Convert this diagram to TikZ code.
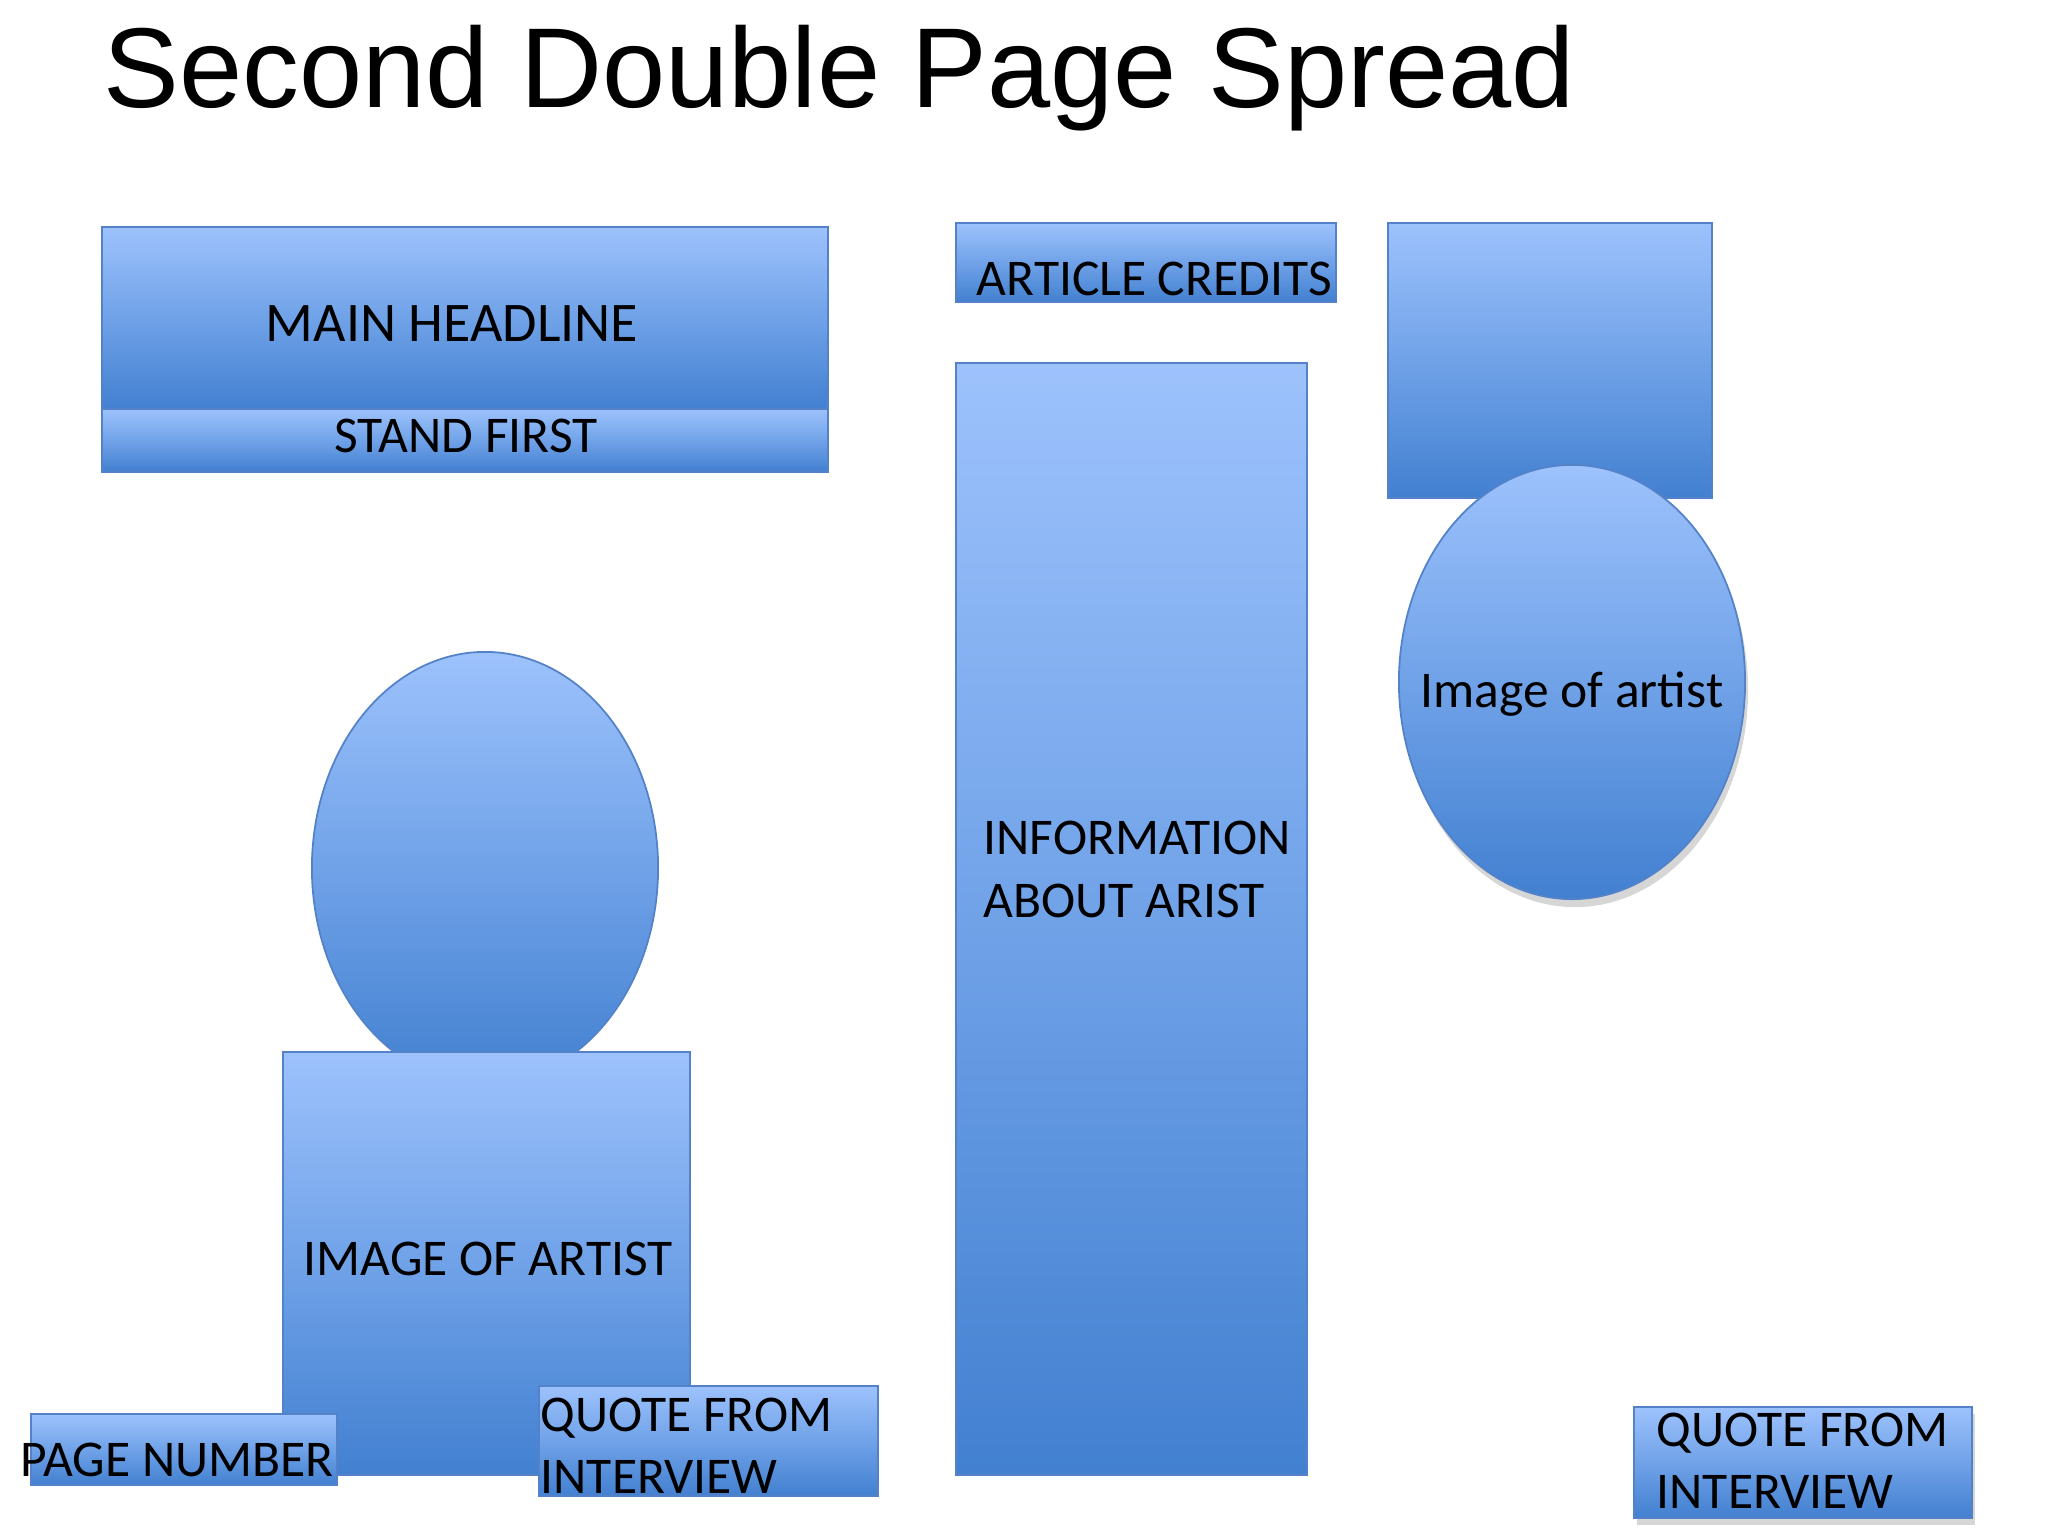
\documentclass[tikz,border=0pt]{standalone}
\usepackage{fontspec}
\setmainfont{Carlito}
\newfontfamily\titlefont{Liberation Sans}
\definecolor{gtop}{RGB}{157,194,252}
\definecolor{gmid}{RGB}{112,162,232}
\definecolor{gbot}{RGB}{66,128,208}
\definecolor{edgeblue}{RGB}{84,130,200}
\tikzset{
  box/.style={draw=edgeblue, line width=0.5pt, top color=gtop, bottom color=gbot, middle color=gmid},
  shadowfill/.style={fill=black, opacity=0.16},
  lbl/.style={inner sep=0pt, anchor=base west, font=\fontsize{14.65}{17.6}\selectfont},
  lblc/.style={inner sep=0pt, anchor=base, font=\fontsize{14.65}{17.6}\selectfont},
}
\begin{document}
\begin{tikzpicture}[x=0.01cm, y=-0.01cm]
\useasboundingbox[fill=white] (0,0) rectangle (2048,1535);

% title
\node[inner sep=0pt, anchor=base west, font=\titlefont\fontsize{32.3}{38}\selectfont] (title) at (103,107) {Second Double Page Spread};

% main headline + stand first
\shade[box] (102,227) rectangle (828,409);
\shade[box] (102,409) rectangle (828,472);
\node[lblc, font=\fontsize{15.9}{19}\selectfont] (headline) at (452,341) {MAIN HEADLINE};
\node[lblc] (standfirst) at (466,452) {STAND FIRST};

% article credits
\shade[box] (956,223) rectangle (1336,302);
\node[lbl] (credits) at (976,295) {ARTICLE CREDITS};

% information column
\shade[box] (956,363) rectangle (1307,1475);
\node[lbl] (info1) at (983,854) {INFORMATION};
\node[lbl] (info2) at (983,917) {ABOUT ARIST};

% top right picture + ellipse
\shade[box] (1388,223) rectangle (1712,498);
\fill[shadowfill] (1575,690) ellipse [x radius=1.73cm, y radius=2.17cm];
\shade[box] (1572,682) ellipse [x radius=1.73cm, y radius=2.17cm];
\node[lblc] (imgright) at (1572,707) {Image of artist};

% left ellipse + image box
\shade[box] (485,868) ellipse [x radius=1.73cm, y radius=2.16cm];
\shade[box] (283,1052) rectangle (690,1475);
\node[lblc] (imgleft) at (488,1275) {IMAGE OF ARTIST};

% page number
\shade[box] (31,1414) rectangle (337,1485);
\node[lbl] (pagenum) at (20,1476) {PAGE NUMBER};

% quote left
\shade[box] (539,1386) rectangle (878,1496);
\node[lbl] (quoteL1) at (540,1431) {QUOTE FROM};
\node[lbl] (quoteL2) at (540,1493) {INTERVIEW};

% quote right
\fill[shadowfill] (1637,1414) rectangle (1975,1525);
\shade[box] (1634,1407) rectangle (1972,1518);
\node[lbl] (quoteR1) at (1656,1446) {QUOTE FROM};
\node[lbl] (quoteR2) at (1656,1508) {INTERVIEW};
\end{tikzpicture}
\end{document}
